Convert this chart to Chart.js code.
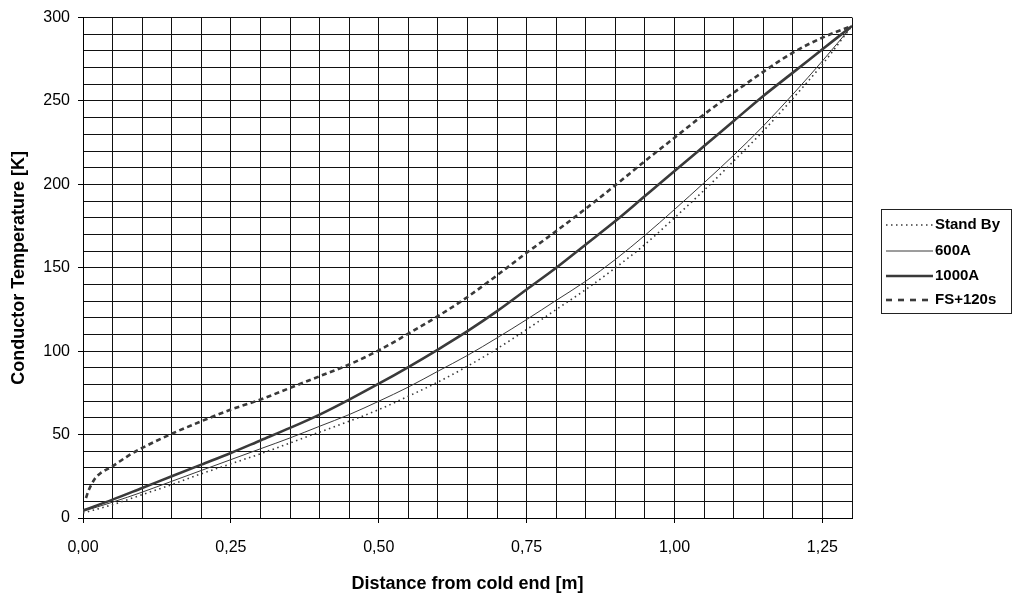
<!DOCTYPE html>
<html>
<head>
<meta charset="utf-8">
<script src="https://cdn.jsdelivr.net/npm/chart.js@4/dist/chart.umd.min.js"></script>
<style>
  html, body { margin: 0; padding: 0; background: #fff; }
  #wrap { width: 1012px; height: 594px; }
</style>
</head>
<body>
<div id="wrap"><canvas id="c" width="1012" height="594"></canvas></div>
<script>
// ---- data ----
const distance = [0, 0.05, 0.1, 0.15, 0.2, 0.25, 0.3, 0.35, 0.4, 0.45, 0.5, 0.55, 0.6, 0.65,
                  0.7, 0.75, 0.8, 0.85, 0.9, 0.95, 1.0, 1.05, 1.1, 1.15, 1.2, 1.25, 1.3];
const standBy = [3, 8, 14, 20, 26.5, 32.5, 38.5, 45, 51.5, 58, 65, 73, 81.5, 91,
                 101.5, 113, 125, 137, 150, 164, 180, 196.5, 214, 232, 251.5, 272, 295];
const amp600  = [4, 9.5, 15.5, 22, 28.5, 35, 41.5, 48, 55, 62, 70, 78.5, 88, 97.5,
                 108, 119, 130.5, 142, 155, 169.5, 185, 201, 217.5, 235, 254, 274, 295];
const amp1000 = [4.5, 11, 18, 25, 32, 39, 46.5, 54, 62, 71, 80.5, 90.5, 101, 112,
                 124, 137, 150, 164, 178, 193, 208, 223, 238, 253, 267, 281, 295];
const fsDistance = [0.005, 0.01, 0.02, 0.03, 0.05, 0.075, 0.1, 0.15, 0.2, 0.25, 0.3, 0.35, 0.4,
                    0.45, 0.5, 0.55, 0.6, 0.65, 0.7, 0.75, 0.8, 0.85, 0.9, 0.95, 1.0, 1.05,
                    1.1, 1.15, 1.2, 1.25, 1.3];
const fs120s = [12, 17, 23.5, 27, 31, 37, 42, 50.5, 58, 65, 71, 78, 85, 92, 100.5, 110.5, 121, 132.5,
                145.5, 159, 172, 185.5, 199.5, 214, 228, 242, 255, 267.5, 279, 288, 295];
const seriesNames = ['Stand By', '600A', '1000A', 'FS+120s'];
const xTitle = 'Distance from cold end [m]';
const yTitle = 'Conductor Temperature [K]';

// ---- helpers ----
const FONT = '"Liberation Sans", Arial, sans-serif';
const pts = (xs, ys) => xs.map((x, i) => ({ x: x, y: ys[i] }));
const isMultiple = (v, step) => Math.abs(v / step - Math.round(v / step)) < 1e-6;
const LINE = '#3a3a3a';

const legendPlugin = {
  id: 'boxLegend',
  afterDraw(chart) {
    const ctx = chart.ctx;
    const left = 881.5, top = 209.5, w = 130, h = 104;
    ctx.save();
    ctx.strokeStyle = '#222';
    ctx.lineWidth = 1;
    ctx.setLineDash([]);
    ctx.strokeRect(left, top, w, h);
    const ys = [225, 251, 276, 300];
    const legendDash = [[1.5, 3.5], [], [], [6, 6]];
    ctx.font = 'bold 15px ' + FONT;
    ctx.textBaseline = 'middle';
    ctx.textAlign = 'left';
    chart.data.datasets.forEach((ds, i) => {
      ctx.beginPath();
      ctx.strokeStyle = ds.borderColor;
      ctx.lineWidth = ds.borderWidth;
      ctx.setLineDash(legendDash[i]);
      ctx.moveTo(886, ys[i]);
      ctx.lineTo(933, ys[i]);
      ctx.stroke();
      ctx.setLineDash([]);
      ctx.fillStyle = '#000';
      ctx.fillText(ds.label, 935, ys[i]);
    });
    ctx.restore();
  }
};

Chart.defaults.font.family = FONT;
Chart.defaults.color = '#000';

new Chart(document.getElementById('c'), {
  type: 'line',
  data: {
    datasets: [
      { label: seriesNames[0], data: pts(distance, standBy), borderColor: LINE, borderWidth: 1.6,
        borderDash: [1.5, 3.5], pointRadius: 0, fill: false, cubicInterpolationMode: 'monotone' },
      { label: seriesNames[1], data: pts(distance, amp600), borderColor: LINE, borderWidth: 1,
        pointRadius: 0, fill: false, cubicInterpolationMode: 'monotone' },
      { label: seriesNames[2], data: pts(distance, amp1000), borderColor: LINE, borderWidth: 2.6,
        pointRadius: 0, fill: false, cubicInterpolationMode: 'monotone' },
      { label: seriesNames[3], data: pts(fsDistance, fs120s), borderColor: LINE, borderWidth: 2.6,
        borderDash: [5, 3.5], pointRadius: 0, fill: false, cubicInterpolationMode: 'monotone' }
    ]
  },
  options: {
    responsive: false,
    animation: false,
    events: [],
    layout: { padding: { left: 0, top: 17, right: 160, bottom: 0 } },
    plugins: { legend: { display: false }, tooltip: { enabled: false } },
    scales: {
      x: {
        type: 'linear', min: 0, max: 1.3,
        afterFit(s) { s.height = 76; },
        border: { color: '#000', width: 1 },
        grid: {
          color: '#111', lineWidth: 1, tickLength: 5,
          tickColor: c => isMultiple(c.tick.value, 0.25) ? '#000' : 'rgba(0,0,0,0)'
        },
        ticks: {
          stepSize: 0.05, autoSkip: false, maxRotation: 0, padding: 15,
          font: { size: 16 },
          callback: v => isMultiple(v, 0.25) ? v.toFixed(2).replace('.', ',') : ''
        },
        title: { display: true, text: xTitle, font: { size: 18, weight: 'bold' },
                 padding: { top: 0, bottom: -1 } }
      },
      y: {
        type: 'linear', min: 0, max: 300,
        afterFit(s) { s.width = 83; },
        border: { color: '#000', width: 1 },
        grid: {
          color: '#111', lineWidth: 1, tickLength: 5,
          tickColor: c => isMultiple(c.tick.value, 50) ? '#000' : 'rgba(0,0,0,0)'
        },
        ticks: {
          stepSize: 10, autoSkip: false, padding: 8,
          font: { size: 16 },
          callback: v => isMultiple(v, 50) ? String(Math.round(v)) : ''
        },
        title: { display: true, text: yTitle, font: { size: 18, weight: 'bold' },
                 padding: { top: 8, bottom: 0 } }
      }
    }
  },
  plugins: [legendPlugin]
});
</script>
</body>
</html>
